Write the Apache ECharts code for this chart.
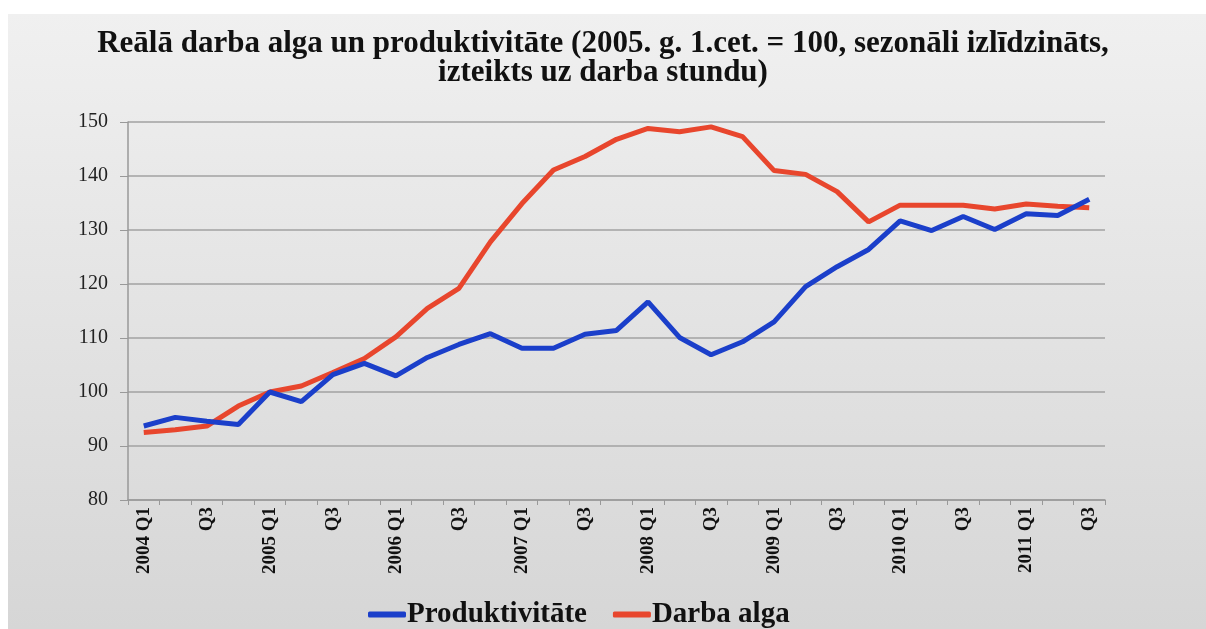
<!DOCTYPE html>
<html>
<head>
    <meta charset="utf-8"/>
    <script src="https://cdn.jsdelivr.net/npm/echarts@6/dist/echarts.min.js"></script>
    <style>
        html, body { margin: 0; padding: 0; background: #fff; }
    </style>
</head>
<body>

<div id="chart" style="width: 1206px; height: 629px;"></div>

<script type="text/javascript">
    // ceturkšņi 2004 Q1 - 2011 Q3
    var quarters = [
        '2004 Q1', 'Q2', 'Q3', 'Q4',
        '2005 Q1', 'Q2', 'Q3', 'Q4',
        '2006 Q1', 'Q2', 'Q3', 'Q4',
        '2007 Q1', 'Q2', 'Q3', 'Q4',
        '2008 Q1', 'Q2', 'Q3', 'Q4',
        '2009 Q1', 'Q2', 'Q3', 'Q4',
        '2010 Q1', 'Q2', 'Q3', 'Q4',
        '2011 Q1', 'Q2', 'Q3'
    ];

    var produktivitate = [
        93.7, 95.3, 94.6, 94.0, 100.0, 98.2, 103.2, 105.3,
        103.0, 106.4, 108.8, 110.8, 108.1, 108.1, 110.7, 111.4,
        116.7, 110.1, 106.9, 109.3, 113.0, 119.5, 123.2, 126.4,
        131.7, 129.9, 132.5, 130.1, 133.0, 132.7, 135.7
    ];

    var darbaAlga = [
        92.5, 93.0, 93.7, 97.4, 100.0, 101.1, 103.6, 106.2,
        110.2, 115.5, 119.2, 127.8, 134.9, 141.1, 143.6, 146.8,
        148.8, 148.2, 149.1, 147.3, 141.0, 140.3, 137.1, 131.5,
        134.6, 134.6, 134.6, 133.9, 134.8, 134.4, 134.1
    ];

    var seriesNames = ['Produktivitāte', 'Darba alga'];

    var serif = '"Liberation Serif", "Times New Roman", serif';

    var chart = echarts.init(document.getElementById('chart'));
    var option = {
        animation: false,
        color: ['#1b3fca', '#e8462d'],
        /* pelēkais fons ar gradientu */
        graphic: [{
            type: 'rect',
            z: -10,
            shape: {x: 8, y: 14, width: 1198, height: 615},
            style: {
                fill: new echarts.graphic.LinearGradient(0, 0, 0, 1, [
                    {offset: 0, color: '#f0f0f0'},
                    {offset: 1, color: '#d6d6d6'}
                ])
            }
        }],
        title: {
            text: 'Reālā darba alga un produktivitāte (2005. g. 1.cet. = 100, sezonāli izlīdzināts,\nizteikts uz darba stundu)',
            left: 'center',
            top: 29,
            padding: 0,
            textStyle: {
                fontFamily: serif,
                fontWeight: 'bold',
                fontSize: 31,
                lineHeight: 29,
                color: '#111'
            }
        },
        grid: {
            left: 128,
            right: 101,
            top: 122,
            bottom: 129
        },
        legend: {
            data: seriesNames,
            left: 368,
            top: 600,
            padding: 0,
            icon: 'roundRect',
            itemWidth: 38,
            itemHeight: 6,
            itemGap: 26,
            textStyle: {
                fontFamily: serif,
                fontWeight: 'bold',
                fontSize: 29,
                color: '#111',
                padding: [0, 0, 0, -4]
            }
        },
        xAxis: {
            type: 'category',
            data: quarters,
            boundaryGap: true,
            axisLine: {
                lineStyle: {color: '#999', width: 1.5}
            },
            axisTick: {
                show: true,
                interval: 0,
                length: 5,
                lineStyle: {color: '#999'}
            },
            axisLabel: {
                interval: 1,
                rotate: 90,
                margin: 7,
                fontFamily: serif,
                fontWeight: 'bold',
                fontSize: 19,
                color: '#111'
            }
        },
        yAxis: {
            type: 'value',
            min: 80,
            max: 150,
            interval: 10,
            axisLine: {
                show: true,
                lineStyle: {color: '#999', width: 1.5}
            },
            axisTick: {
                show: true,
                inside: false,
                length: 8,
                lineStyle: {color: '#999'}
            },
            axisLabel: {
                margin: 20,
                fontFamily: serif,
                fontSize: 20,
                color: '#222'
            },
            splitLine: {
                show: true,
                lineStyle: {color: '#a2a2a2', width: 1.5}
            }
        },
        series: [{
            name: seriesNames[0],
            type: 'line',
            data: produktivitate,
            showSymbol: false,
            z: 3,
            lineStyle: {width: 5}
        }, {
            name: seriesNames[1],
            type: 'line',
            data: darbaAlga,
            showSymbol: false,
            z: 2,
            lineStyle: {width: 5}
        }]
    };

    chart.setOption(option);
</script>

</body>
</html>
